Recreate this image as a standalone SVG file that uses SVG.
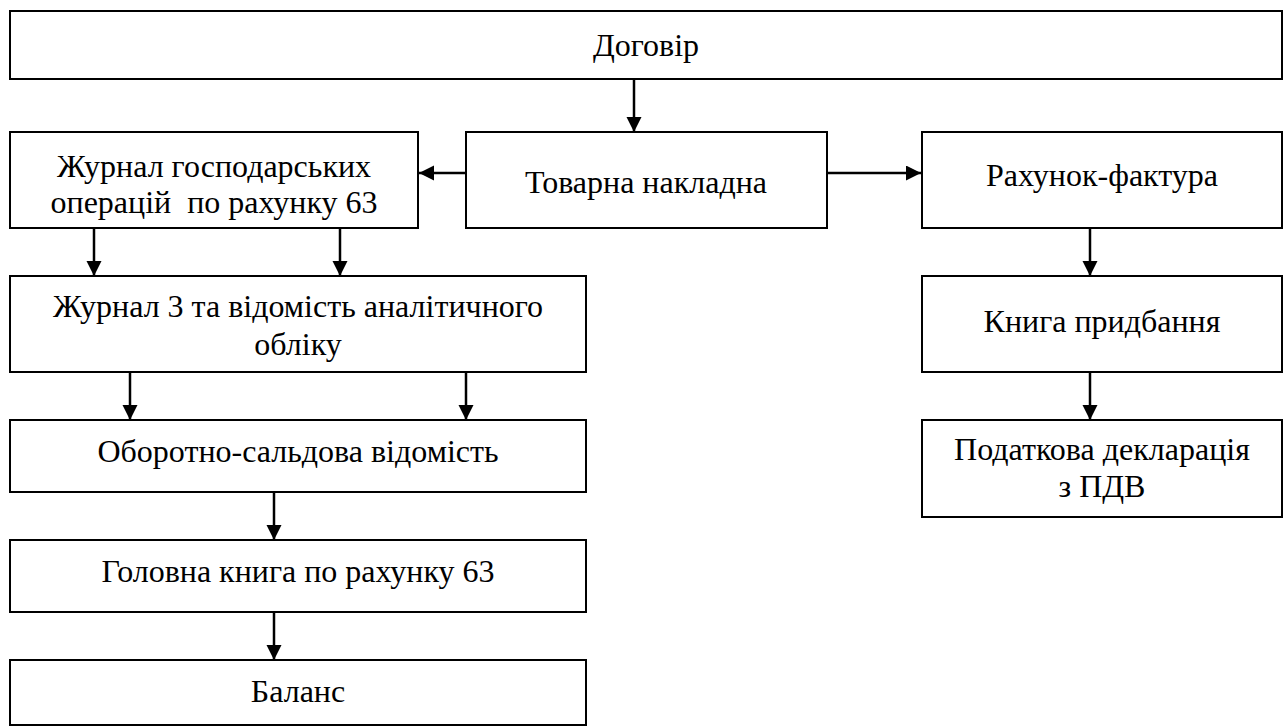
<svg xmlns="http://www.w3.org/2000/svg" width="1285" height="727" viewBox="0 0 1285 727">
<style>
.box{fill:#fff;stroke:#000;stroke-width:2}
text{font-family:'Liberation Serif','Times New Roman',serif;font-size:32px;fill:#000;text-anchor:middle}
.c{stroke:#000;stroke-width:2.5;fill:none;marker-end:url(#ah)}
</style>
<defs>
<marker id="ah" markerUnits="userSpaceOnUse" markerWidth="16" markerHeight="16" refX="15" refY="7.5" orient="auto">
<path d="M0,0 L15,7.5 L0,15 z" fill="#000"/>
</marker>
</defs>
<rect width="1285" height="727" fill="#fff"/>
<g id="connectors">
<line class="c" x1="634" y1="79" x2="634" y2="132"/>
<line class="c" x1="466" y1="173" x2="419" y2="173"/>
<line class="c" x1="827" y1="173" x2="921" y2="173"/>
<line class="c" x1="94" y1="228" x2="94" y2="276"/>
<line class="c" x1="340" y1="228" x2="340" y2="276"/>
<line class="c" x1="130" y1="372" x2="130" y2="420"/>
<line class="c" x1="466" y1="372" x2="466" y2="420"/>
<line class="c" x1="274" y1="492" x2="274" y2="540"/>
<line class="c" x1="274" y1="612" x2="274" y2="660"/>
<line class="c" x1="1090" y1="228" x2="1090" y2="276"/>
<line class="c" x1="1090" y1="372" x2="1090" y2="420"/>
</g>
<g id="dogovir">
<rect class="box" x="10" y="11" width="1272" height="68"/>
<text x="646" y="56">Договір</text>
</g>
<g id="zhurnal-hosp">
<rect class="box" x="10" y="132" width="408" height="96"/>
<text x="214" y="177">Журнал господарських</text>
<text x="214" y="213" xml:space="preserve">операцій  по рахунку 63</text>
</g>
<g id="tovarna">
<rect class="box" x="466" y="132" width="361" height="96"/>
<text x="646" y="193">Товарна накладна</text>
</g>
<g id="rakhunok">
<rect class="box" x="922" y="132" width="360" height="96"/>
<text x="1102" y="186">Рахунок-фактура</text>
</g>
<g id="zhurnal3">
<rect class="box" x="10" y="276" width="576" height="96"/>
<text x="298" y="317">Журнал 3 та відомість аналітичного</text>
<text x="298" y="355">обліку</text>
</g>
<g id="knyha">
<rect class="box" x="922" y="276" width="360" height="96"/>
<text x="1102" y="332">Книга придбання</text>
</g>
<g id="oborotno">
<rect class="box" x="10" y="420" width="576" height="72"/>
<text x="298" y="462">Оборотно-сальдова відомість</text>
</g>
<g id="podatkova">
<rect class="box" x="922" y="420" width="360" height="97"/>
<text x="1102" y="460">Податкова декларація</text>
<text x="1102" y="497">з ПДВ</text>
</g>
<g id="holovna">
<rect class="box" x="10" y="540" width="576" height="72"/>
<text x="298" y="582">Головна книга по рахунку 63</text>
</g>
<g id="balans">
<rect class="box" x="10" y="660" width="576" height="65"/>
<text x="298" y="702">Баланс</text>
</g>
</svg>
